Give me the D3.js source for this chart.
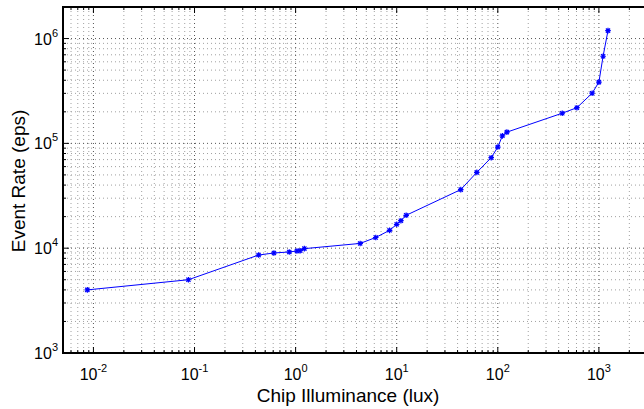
<!DOCTYPE html>
<html>
<head>
<meta charset="utf-8">
<script src="https://cdn.jsdelivr.net/npm/d3@7/dist/d3.min.js"></script>
<style>
  html, body { margin: 0; padding: 0; background: #fff; overflow: hidden; }
  svg { display: block; font-family: "Liberation Sans", Arial, Helvetica, sans-serif; }
</style>
</head>
<body>
<svg id="chart" width="644" height="409"></svg>
<script>
// Chip illuminance (lux) vs. event rate (events per second)
const illuminance = [0.0087, 0.087, 0.43, 0.61, 0.865, 1.03, 1.11, 1.22, 4.35, 6.2, 8.5, 10.0, 11.0, 12.4,
                     43, 62, 86, 100, 111, 123, 434, 606, 857, 1000, 1100, 1230];
const eventRate = [4000, 5000, 8600, 9000, 9200, 9400, 9450, 9900, 11100, 12650, 14800, 16900, 18300, 20600,
                   36200, 52900, 73000, 92200, 118000, 128000, 194000, 219000, 301000, 384000, 678000, 1190000];
const xTickExponents = [-2, -1, 0, 1, 2, 3];
const yTickExponents = [3, 4, 5, 6];
const xLabel = "Chip Illuminance (lux)";
const yLabel = "Event Rate (eps)";

const svg = d3.select("#chart");
const pLeft = 63, pTop = 7, pBottom = 353, pRight = 700;

const x = d3.scaleLog().domain([0.005, 10000]).range([pLeft, pRight]);
const y = d3.scaleLog().domain([1000, 2e6]).range([pBottom, pTop]);

// major and minor tick positions over the visible domain
function logTicks(scale) {
  const [a, b] = scale.domain();
  const major = [], minor = [];
  for (let e = Math.floor(Math.log10(a)); e <= Math.ceil(Math.log10(b)); e++) {
    for (let m = 1; m <= 9; m++) {
      const v = m * Math.pow(10, e);
      if (v < a * 0.9999 || v > b * 1.0001) continue;
      (m === 1 ? major : minor).push(v);
    }
  }
  return { major, minor };
}
const xt = logTicks(x), yt = logTicks(y);

const grid = svg.append("g");
function gridLines(xs, ys, color) {
  xs.forEach(v => grid.append("line")
    .attr("x1", x(v)).attr("x2", x(v)).attr("y1", pTop).attr("y2", pBottom)
    .attr("stroke", color).attr("stroke-width", 1).attr("stroke-dasharray", "1,3"));
  ys.forEach(v => grid.append("line")
    .attr("y1", y(v)).attr("y2", y(v)).attr("x1", pLeft).attr("x2", pRight)
    .attr("stroke", color).attr("stroke-width", 1).attr("stroke-dasharray", "1,3"));
}
gridLines(xt.minor, yt.minor, "#a0a0a0");
gridLines(xt.major, yt.major, "#555");

// inward tick marks on all sides of the box
const ticks = svg.append("g").attr("stroke", "#000").attr("stroke-width", 1);
function addTicks(xs, ys, len) {
  xs.forEach(v => {
    ticks.append("line").attr("x1", x(v)).attr("x2", x(v)).attr("y1", pBottom).attr("y2", pBottom - len);
    ticks.append("line").attr("x1", x(v)).attr("x2", x(v)).attr("y1", pTop).attr("y2", pTop + len);
  });
  ys.forEach(v => {
    ticks.append("line").attr("y1", y(v)).attr("y2", y(v)).attr("x1", pLeft).attr("x2", pLeft + len);
    ticks.append("line").attr("y1", y(v)).attr("y2", y(v)).attr("x1", pRight).attr("x2", pRight - len);
  });
}
addTicks(xt.major, yt.major, 6);
addTicks(xt.minor, yt.minor, 3);

// data line with asterisk markers
const pts = illuminance.map((v, i) => [v, eventRate[i]]);
svg.append("path")
  .attr("d", d3.line().x(d => x(d[0])).y(d => y(d[1]))(pts))
  .attr("fill", "none").attr("stroke", "#0000ff").attr("stroke-width", 1);
const r = 2.8;
const marks = svg.append("g").attr("stroke", "#0000ff").attr("stroke-width", 1.2);
pts.forEach(d => {
  const cx = x(d[0]), cy = y(d[1]);
  marks.append("path").attr("d",
    `M${cx - r},${cy}L${cx + r},${cy}M${cx},${cy - r}L${cx},${cy + r}` +
    `M${cx - r * 0.75},${cy - r * 0.75}L${cx + r * 0.75},${cy + r * 0.75}` +
    `M${cx - r * 0.75},${cy + r * 0.75}L${cx + r * 0.75},${cy - r * 0.75}`);
});

// box
svg.append("path")
  .attr("d", `M${pLeft},${pTop}L${pRight},${pTop}L${pRight},${pBottom}L${pLeft},${pBottom}Z`)
  .attr("fill", "none").attr("stroke", "#000").attr("stroke-width", 2);

// x tick labels
const xl = svg.append("g");
xTickExponents.forEach(e => {
  const t = xl.append("text").attr("x", x(Math.pow(10, e))).attr("y", 380)
    .attr("text-anchor", "middle").attr("font-size", 16).attr("fill", "#000");
  t.append("tspan").text("10");
  t.append("tspan").attr("dy", -8).attr("font-size", 11).text(e < 0 ? "-" + (-e) : String(e));
});
// y tick labels
const yl = svg.append("g");
yTickExponents.forEach(e => {
  const t = yl.append("text").attr("x", 58).attr("y", y(Math.pow(10, e)) + 6)
    .attr("text-anchor", "end").attr("font-size", 16).attr("fill", "#000");
  t.append("tspan").text("10");
  t.append("tspan").attr("dy", -8).attr("font-size", 11).text(String(e));
});

// axis titles
svg.append("text").attr("x", 348).attr("y", 402).attr("text-anchor", "middle")
  .attr("font-size", 19).attr("fill", "#000").text(xLabel);
svg.append("text").attr("transform", "translate(25,181) rotate(-90)").attr("text-anchor", "middle")
  .attr("font-size", 19).attr("fill", "#000").text(yLabel);
</script>
</body>
</html>
